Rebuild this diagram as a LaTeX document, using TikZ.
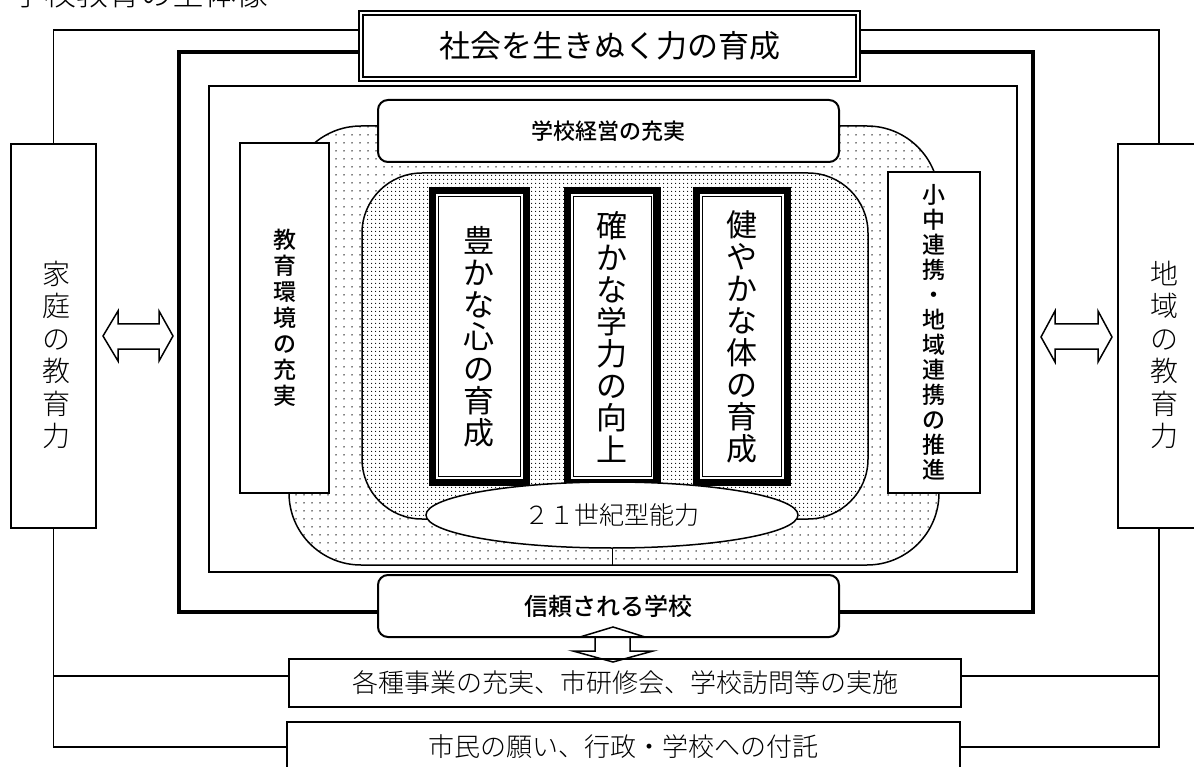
\documentclass[tikz,border=0pt]{standalone}
\usepackage{fontspec}
\newfontfamily\goth{Noto Sans CJK JP}
\IfFontExistsTF{Noto Sans CJK JP Medium}{\newfontfamily\gothm{Noto Sans CJK JP Medium}}{\newfontfamily\gothm{Noto Sans CJK JP}}
\IfFontExistsTF{Noto Sans CJK JP Light}{\newfontfamily\mincho{Noto Sans CJK JP Light}}{\newfontfamily\mincho{Noto Sans CJK JP}}
\usetikzlibrary{shapes.geometric,patterns.meta}
\begin{document}
\begin{tikzpicture}[x=1pt,y=-1pt,
  ln/.style={line width=1.5pt},
  bx/.style={draw, line width=1.5pt, fill=white, inner sep=0pt, align=center},
  rbx/.style={bx, rounded corners=10pt, line width=2pt},
  pil/.style={draw, line width=7.5pt, fill=white, inner sep=0pt, minimum height=291.5pt, align=center, font=\goth\fontsize{31}{32}\selectfont},
  sidetext/.style={inner sep=0pt, align=center, font=\mincho\fontsize{28}{32.5}\selectfont},
  sidearrow/.style={ln, fill=white, line join=miter}
]
\useasboundingbox (0,0) rectangle (1194,767);

% header (cut off at top)
\node[anchor=base west, inner sep=0pt, font=\mincho\fontsize{32}{32}\selectfont] (head) at (12,6) {学校教育の全体像};

% outer frames
\node[draw, line width=4.5pt, minimum width=854, minimum height=560, inner sep=0pt] (frame) at (606,332) {};
\node[draw, ln, minimum width=808, minimum height=486, inner sep=0pt] (inner) at (613,329) {};

% dotted zones
\node[draw, ln, fill=white, rounded corners=72pt, minimum width=650, minimum height=439, inner sep=0pt,
      postaction={pattern={Dots[distance=8pt,radius=0.75pt]}}] (zone) at (614,345.5) {};
\node[draw, ln, fill=white, rounded corners=60pt, minimum width=506, minimum height=346, inner sep=0pt,
      postaction={pattern={Dots[distance=4pt,radius=0.75pt]}}] (core) at (615,346) {};

% pillars
\node[pil, minimum width=94] (p1) at (479.25,336.5) {豊\\か\\な\\心\\の\\育\\成};
\node[pil, minimum width=89.5] (p2) at (612,336.5) {確\\か\\な\\学\\力\\の\\向\\上};
\node[pil, minimum width=91] (p3) at (741.75,336.5) {健\\や\\か\\な\\体\\の\\育\\成};
\foreach \p in {p1,p2,p3}{
  \draw[line width=1pt] ([shift={(6.25,6.25)}]\p.north west) rectangle ([shift={(-6.25,-6.25)}]\p.south east);
  \draw[line width=1pt] ([shift={(9.5,9.5)}]\p.north west) rectangle ([shift={(-9.5,-9.5)}]\p.south east);
}

% 21st century ellipse
\node[ellipse, draw, ln, fill=white, minimum width=372, minimum height=66, inner sep=0pt,
      font=\mincho\fontsize{25}{25}\selectfont] (e21) at (612,515) {２１世紀型能力};
\draw[line width=1pt] (e21.south) -- (e21.south |- zone.south);

% side boxes inside
\node[rbx, minimum width=461, minimum height=62, font=\gothm\fontsize{22}{22}\selectfont] (keiei) at (608.5,131) {学校経営の充実};
\node[bx, minimum width=89, minimum height=350, font=\gothm\fontsize{23}{26}\selectfont] (kankyo) at (284.5,318) {教\\育\\環\\境\\の\\充\\実};
\node[bx, minimum width=92, minimum height=321, font=\gothm\fontsize{23}{25}\selectfont] (renkei) at (934,332.5) {小\\中\\連\\携\\・\\地\\域\\連\\携\\の\\推\\進};

% outer boxes
\node[bx, minimum width=85, minimum height=384] (family) at (53.5,336) {};
\node[sidetext] (famtext) at (56,355) {家\\庭\\の\\教\\育\\力};
\node[bx, minimum width=82, minimum height=384] (chiiki) at (1159,336) {};
\node[sidetext] (chiikitext) at (1164,355) {地\\域\\の\\教\\育\\力};

% title
\node[draw, line width=2pt, fill=white, minimum width=501, minimum height=70, inner sep=0pt,
      font=\goth\fontsize{31}{31}\selectfont] (title) at (609.5,46) {社会を生きぬく力の育成};
\draw[line width=2.5pt] ([shift={(5,5)}]title.north west) rectangle ([shift={(-5,-5)}]title.south east);
\draw[ln] ([yshift=16pt]title.west) -| (family.north);
\draw[ln] ([yshift=16pt]title.east) -| (chiiki.north);

% trusted school
\node[rbx, minimum width=461, minimum height=62, font=\gothm\fontsize{24}{24}\selectfont] (shinrai) at (608.5,606) {信頼される学校};

% bottom boxes
\node[bx, minimum width=672, minimum height=48, font=\mincho\fontsize{26}{26}\selectfont] (box1) at (625,683) {各種事業の充実、市研修会、学校訪問等の実施};
\node[bx, minimum width=673, minimum height=50, font=\mincho\fontsize{26}{26}\selectfont] (box2) at (623.5,747) {市民の願い、行政・学校への付託};
\coordinate (l1) at ([yshift=7pt]box1.west);
\coordinate (r1) at ([yshift=7pt]box1.east);

\draw[ln] (family.south) |- (box2.west);
\draw[ln] (l1) -- (l1 -| family.south);
\draw[ln] (chiiki.south) |- (box2.east);
\draw[ln] (r1) -- (r1 -| chiiki.south);

% up-down block arrow
\draw[ln, line join=miter] (613,627) -- (645,637) -- (630,637) -- (630,651) -- (653,651) -- (613,662)
  -- (573,651) -- (595,651) -- (595,637) -- (580,637) -- cycle;

% left-right block arrows
\draw[sidearrow] (103,336) -- (118,311) -- (118,324) -- (159,324) -- (159,311) -- (173,336)
  -- (159,361) -- (159,349) -- (118,349) -- (118,361) -- cycle;
\draw[sidearrow] (1041,337) -- (1055,311) -- (1055,324) -- (1098,324) -- (1098,311) -- (1112,337)
  -- (1098,362) -- (1098,349) -- (1055,349) -- (1055,362) -- cycle;
\end{tikzpicture}
\end{document}
